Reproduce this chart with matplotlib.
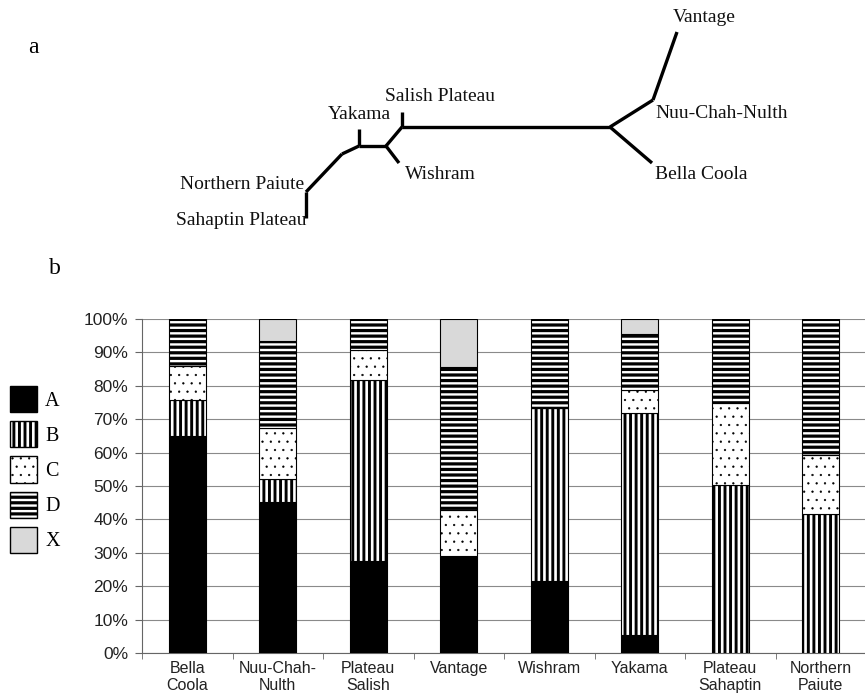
import matplotlib
matplotlib.use('Agg')
import matplotlib.pyplot as plt
import numpy as np

# Haplogroup frequencies (percent) per population
populations = ['Bella\nCoola', 'Nuu-Chah-\nNulth', 'Plateau\nSalish', 'Vantage',
               'Wishram', 'Yakama', 'Plateau\nSahaptin', 'Northern\nPaiute']
haplogroups = ['A', 'B', 'C', 'D', 'X']
share_a = [65.0, 45.3, 27.5, 29.0, 21.5, 5.5, 0.0, 0.0]
share_b = [10.8, 6.8, 54.3, 0.0, 51.8, 66.3, 50.4, 41.5]
share_c = [10.0, 15.4, 9.0, 13.8, 0.0, 7.0, 24.6, 17.8]
share_d = [14.2, 25.8, 9.2, 42.8, 26.7, 16.7, 25.0, 40.7]
share_x = [0.0, 6.7, 0.0, 14.4, 0.0, 4.5, 0.0, 0.0]
y_ticks = [0, 10, 20, 30, 40, 50, 60, 70, 80, 90, 100]

# Unrooted tree: node positions (figure pixels) and branches
tree_nodes = {
    'vantage': (677, 32), 'nuu': (653, 100), 'root': (610, 127),
    'bella': (652, 163), 'salish_j': (402, 127), 'salish': (402, 112),
    'wish_j': (386, 146), 'wishram': (399, 163), 'yak_j': (359, 146),
    'yakama': (359, 129), 'k1': (342, 154), 'paiute': (306, 192),
    'sahaptin': (306, 218),
}
tree_edges = [('vantage', 'nuu'), ('nuu', 'root'), ('root', 'bella'),
              ('root', 'salish_j'), ('salish_j', 'salish'), ('salish_j', 'wish_j'),
              ('wish_j', 'wishram'), ('wish_j', 'yak_j'), ('yak_j', 'yakama'),
              ('yak_j', 'k1'), ('k1', 'paiute'), ('paiute', 'sahaptin')]
tree_labels = [
    ('Vantage', 704, 17, 'center'), ('Nuu-Chah-Nulth', 655, 113, 'left'),
    ('Bella Coola', 655, 174, 'left'), ('Salish Plateau', 385, 96, 'left'),
    ('Yakama', 359, 114, 'center'), ('Wishram', 405, 174, 'left'),
    ('Northern Paiute', 304, 184, 'right'), ('Sahaptin Plateau', 306, 220, 'right'),
]

W, H = 865, 694
serif = 'Liberation Serif'
sans = 'Liberation Sans'

fig = plt.figure(figsize=(W / 100, H / 100), dpi=100)
fig.patch.set_facecolor('white')

# --- panel a: tree drawn in pixel space ---
ax_tree = fig.add_axes([0, 0, 1, 1])
ax_tree.set_xlim(0, W)
ax_tree.set_ylim(H, 0)
ax_tree.axis('off')
for a, b in tree_edges:
    (x0, y0), (x1, y1) = tree_nodes[a], tree_nodes[b]
    ax_tree.plot([x0, x1], [y0, y1], color='black', lw=2.4,
                 solid_capstyle='butt', solid_joinstyle='miter')
for text, x, y, ha in tree_labels:
    ax_tree.text(x, y, text, ha=ha, va='center', fontsize=14,
                 family=serif, color='#111111')
ax_tree.text(33, 47, 'a', ha='center', va='center', fontsize=17, family=serif)
ax_tree.text(55, 268, 'b', ha='center', va='center', fontsize=17, family=serif)

# --- panel b: stacked bars ---
ax = fig.add_axes([142 / W, 1 - 653 / H, 724 / W, 334 / H])
x = np.arange(len(populations))
series = [share_a, share_b, share_c, share_d, share_x]
styles = [
    dict(color='black', hatch=None, hlw=1.0),
    dict(color='white', hatch='|||', hlw=2.1),
    dict(color='white', hatch='..', hlw=0.4),
    dict(color='white', hatch='---', hlw=2.3),
    dict(color='#d9d9d9', hatch=None, hlw=1.0),
]
bottom = np.zeros(len(populations))
handles = []
for name, vals, st in zip(haplogroups, series, styles):
    vals = np.array(vals)
    bars = ax.bar(x, vals, width=0.41, bottom=bottom, color=st['color'],
                  edgecolor='black', linewidth=0.8, hatch=st['hatch'],
                  label=name, zorder=3)
    for p in bars:
        p.set_hatch_linewidth(st['hlw'])
    handles.append(bars)
    bottom += vals

ax.set_xlim(-0.5, len(populations) - 0.5)
ax.set_ylim(0, 100)
ax.set_yticks(y_ticks)
ax.set_yticklabels([f'{t}%' for t in y_ticks], fontsize=12.5, family=sans,
                   color='#222222')
ax.yaxis.grid(True, color='#8a8a8a', lw=0.8, zorder=0)
ax.set_axisbelow(True)
ax.set_xticks(x)
ax.set_xticklabels(populations, fontsize=11.5, family=sans, color='#222222',
                   linespacing=1.15)
ax.set_xticks(np.arange(len(populations) + 1) - 0.5, minor=True)
ax.tick_params(axis='x', which='major', length=0, pad=6)
ax.tick_params(axis='x', which='minor', length=4, color='#666666', direction='out')
ax.tick_params(axis='y', length=5, color='#666666', pad=5)
for side in ('top', 'right'):
    ax.spines[side].set_visible(False)
ax.spines['left'].set_color('#666666')
ax.spines['bottom'].set_color('#666666')

leg = fig.legend(handles=handles, labels=haplogroups, loc='upper left',
                 bbox_to_anchor=(10 / W, 1 - 386 / H), frameon=False,
                 handlelength=1.35, handleheight=1.62, labelspacing=0.45,
                 handletextpad=0.4, borderpad=0, borderaxespad=0,
                 prop={'family': serif, 'size': 14.5})
for h, st in zip(leg.legend_handles, styles):
    h.set_linewidth(1.0)
    h.set_hatch_linewidth(st['hlw'])

fig.savefig('out.png', dpi=100, facecolor='white')
